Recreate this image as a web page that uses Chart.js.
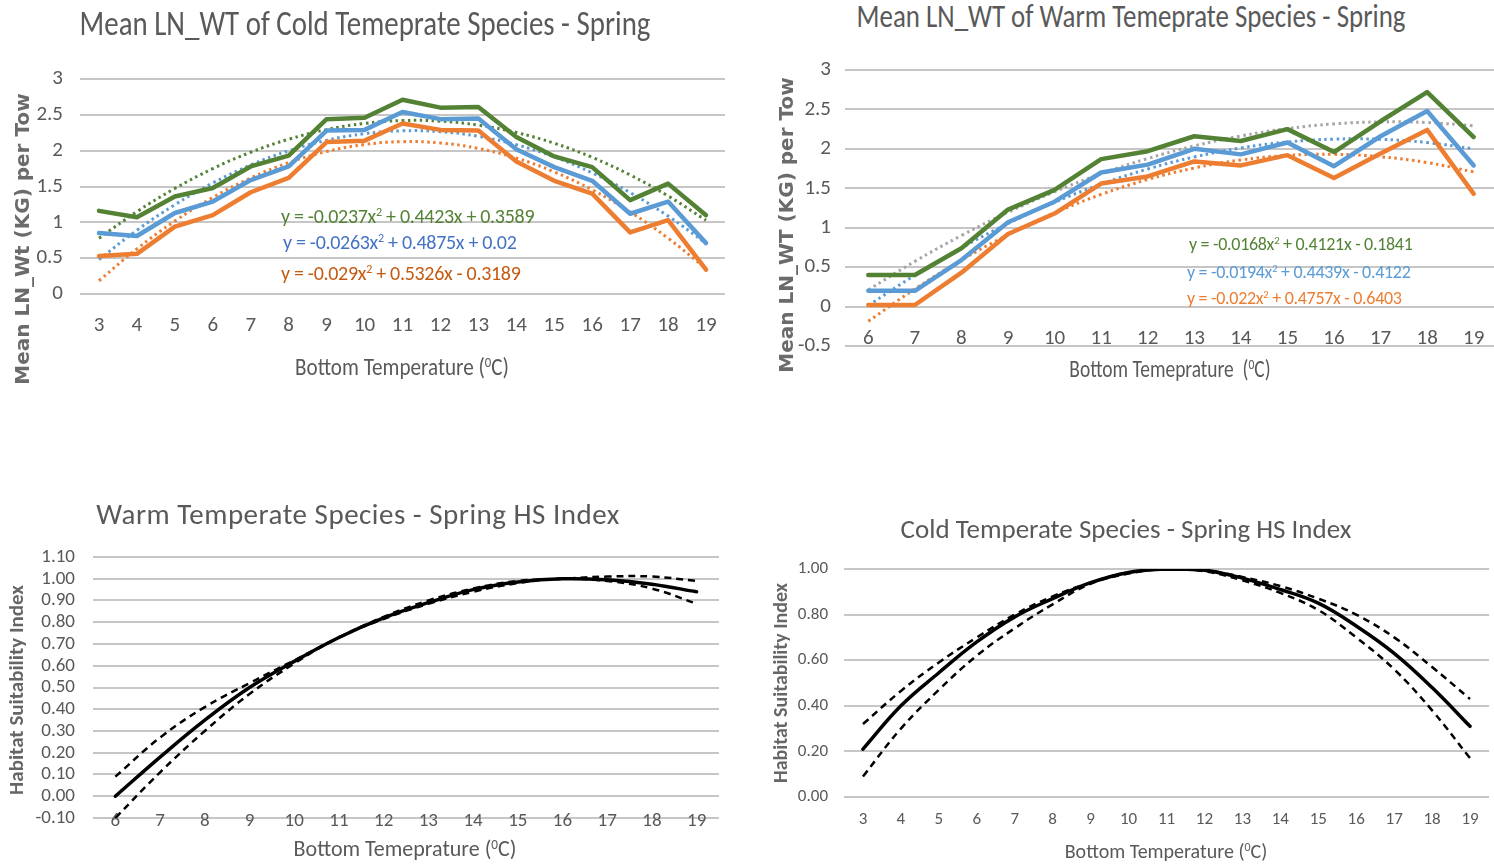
<!DOCTYPE html>
<html>
<head>
<meta charset="utf-8">
<script src="https://cdn.jsdelivr.net/npm/chart.js@4.4.1/dist/chart.umd.min.js"></script>
<style>
  html, body { margin: 0; padding: 0; background: #fff; width: 1494px; height: 864px; overflow: hidden; position: relative; }
  body { font-family: 'Carlito', 'Liberation Sans Narrow', 'Open Sans', sans-serif; }
  canvas { position: absolute; }
  .t { position: absolute; white-space: nowrap; color: #595959; transform: translate(-50%, -50%) scaleX(var(--sx, 1)); line-height: 1; }
  .rot { transform: translate(-50%, -50%) rotate(-90deg); }
  .eq { position: absolute; white-space: nowrap; transform: translateY(-50%); line-height: 1; letter-spacing: -0.3px; }
  sup { font-size: 0.6em; vertical-align: 0.55em; line-height: 0; }
  .ytl { font-family: 'DejaVu Sans', sans-serif; font-weight: bold; font-size: 20px; color: #6b6b6b; }
  .yth { font-size: 21px; font-weight: bold; color: #666; }
</style>
</head>
<body>
<canvas id="coldMean" width="745" height="320" style="left:0;top:40px"></canvas>
<canvas id="warmMean" width="740" height="340" style="left:760px;top:40px"></canvas>
<canvas id="warmIndex" width="740" height="344" style="left:0;top:520px"></canvas>
<canvas id="coldIndex" width="740" height="334" style="left:760px;top:530px"></canvas>

<div class="t" style="left:365px;top:24px;font-size:34px;--sx:0.85">Mean LN_WT of Cold Temeprate Species - Spring</div>
<div class="t" style="left:1131px;top:17px;font-size:32px;--sx:0.84">Mean LN_WT of Warm Temeprate Species - Spring</div>
<div class="t" style="left:358px;top:514px;font-size:29px;letter-spacing:0.5px">Warm Temperate Species - Spring HS Index</div>
<div class="t" style="left:1126px;top:528px;font-size:27px">Cold Temperate Species - Spring HS Index</div>

<div class="t rot ytl" style="left:22px;top:239px">Mean LN_Wt (KG) per Tow</div>
<div class="t rot ytl" style="left:786px;top:225px">Mean LN_WT (KG) per Tow</div>
<div class="t rot yth" style="left:16px;top:690px">Habitat Suitability Index</div>
<div class="t rot yth" style="left:780px;top:683px;font-size:20px">Habitat Suitability Index</div>

<div class="t" style="left:402px;top:367px;font-size:24px;--sx:0.88">Bottom Temperature (<sup>0</sup>C)</div>
<div class="t" style="left:1170px;top:369px;font-size:24px;--sx:0.81">Bottom Temeprature&nbsp; (<sup>0</sup>C)</div>
<div class="t" style="left:405px;top:849px;font-size:22px">Bottom Temeprature (<sup>0</sup>C)</div>
<div class="t" style="left:1166px;top:851px;font-size:20px">Bottom Temperature (<sup>0</sup>C)</div>

<div class="eq" style="left:281px;top:216px;font-size:20px;color:#548235">y = -0.0237x<sup>2</sup> + 0.4423x + 0.3589</div>
<div class="eq" style="left:283px;top:242px;font-size:20px;color:#4472C4">y = -0.0263x<sup>2</sup> + 0.4875x + 0.02</div>
<div class="eq" style="left:281px;top:273px;font-size:20px;color:#C55A11">y = -0.029x<sup>2</sup> + 0.5326x - 0.3189</div>
<div class="eq" style="left:1189px;top:244px;font-size:18px;color:#548235">y = -0.0168x<sup>2</sup> + 0.4121x - 0.1841</div>
<div class="eq" style="left:1187px;top:272px;font-size:18px;color:#5B9BD5">y = -0.0194x<sup>2</sup> + 0.4439x - 0.4122</div>
<div class="eq" style="left:1187px;top:298px;font-size:18px;color:#ED7D31">y = -0.022x<sup>2</sup> + 0.4757x - 0.6403</div>

<script>
// Bottom temperature categories (°C)
const coldTemps = ['3','4','5','6','7','8','9','10','11','12','13','14','15','16','17','18','19'];
const warmTemps = ['6','7','8','9','10','11','12','13','14','15','16','17','18','19'];

// Mean LN weight per tow, cold temperate species (upper, mean, lower)
const coldUpper = [1.16, 1.07, 1.36, 1.48, 1.78, 1.93, 2.44, 2.46, 2.71, 2.60, 2.61, 2.19, 1.92, 1.77, 1.31, 1.54, 1.10];
const coldMean  = [0.85, 0.81, 1.13, 1.29, 1.59, 1.78, 2.28, 2.29, 2.54, 2.44, 2.45, 2.02, 1.77, 1.58, 1.12, 1.29, 0.71];
const coldLower = [0.53, 0.56, 0.94, 1.10, 1.42, 1.62, 2.12, 2.14, 2.38, 2.29, 2.28, 1.85, 1.58, 1.40, 0.86, 1.03, 0.34];

// Mean LN weight per tow, warm temperate species (upper, mean, lower)
const warmUpper = [0.40, 0.40, 0.74, 1.23, 1.48, 1.87, 1.97, 2.16, 2.10, 2.25, 1.96, 2.35, 2.72, 2.15];
const warmMean  = [0.20, 0.20, 0.59, 1.07, 1.33, 1.70, 1.80, 2.00, 1.93, 2.08, 1.78, 2.16, 2.48, 1.79];
const warmLower = [0.02, 0.02, 0.43, 0.92, 1.18, 1.56, 1.65, 1.84, 1.79, 1.92, 1.63, 1.94, 2.24, 1.43];

// Polynomial trendline coefficients [a, b, c] for y = a·x² + b·x + c
const coldUpperFit = [-0.0237, 0.4423, 0.3589];
const coldMeanFit  = [-0.0263, 0.4875, 0.02];
const coldLowerFit = [-0.029, 0.5326, -0.3189];
const warmUpperFit = [-0.0168, 0.4121, -0.1841];
const warmMeanFit  = [-0.0194, 0.4439, -0.4122];
const warmLowerFit = [-0.022, 0.4757, -0.6403];

// Habitat suitability index, warm temperate species
const warmHsi      = [0.00, 0.18, 0.35, 0.50, 0.62, 0.73, 0.82, 0.89, 0.95, 0.985, 1.00, 0.995, 0.975, 0.94];
const warmHsiUpper = [0.09, 0.27, 0.41, 0.52, 0.625, 0.73, 0.825, 0.90, 0.955, 0.99, 1.00, 1.01, 1.01, 0.99];
const warmHsiLower = [-0.10, 0.11, 0.30, 0.47, 0.61, 0.73, 0.815, 0.885, 0.94, 0.98, 1.00, 0.99, 0.955, 0.885];

// Habitat suitability index, cold temperate species
const coldHsi      = [0.21, 0.40, 0.545, 0.68, 0.79, 0.87, 0.94, 0.985, 1.00, 0.995, 0.96, 0.91, 0.85, 0.75, 0.63, 0.48, 0.31];
const coldHsiUpper = [0.32, 0.465, 0.59, 0.70, 0.80, 0.88, 0.94, 0.985, 1.00, 0.995, 0.965, 0.925, 0.87, 0.80, 0.70, 0.57, 0.43];
const coldHsiLower = [0.09, 0.30, 0.47, 0.62, 0.74, 0.845, 0.935, 0.98, 1.00, 0.99, 0.95, 0.895, 0.82, 0.70, 0.56, 0.38, 0.17];

// Trendline evaluated at each category; x is the 1-based category position
function trend(coef, n) {
  const out = [];
  for (let i = 1; i <= n; i++) out.push(coef[0] * i * i + coef[1] * i + coef[2]);
  return out;
}

const FONT = "'Carlito', 'Liberation Sans Narrow', 'Open Sans', sans-serif";
const TICK = '#595959';
const GRID = '#c6c6c6';

function solid(data, color, width, tension) {
  return { data, borderColor: color, borderWidth: width, pointRadius: 0, tension: tension || 0,
           fill: false, borderJoinStyle: 'round', borderCapStyle: 'round' };
}
function dotted(data, color, width, dash, tension) {
  return { data, borderColor: color, borderWidth: width, borderDash: dash, pointRadius: 0,
           tension: tension || 0, fill: false, borderCapStyle: 'butt' };
}

// Category labels may sit inside the plot area (drawn over the lowest gridline),
// so the x axis draws its labels without clipping them to the axis box
const unclipCategoryLabels = {
  id: 'unclipCategoryLabels',
  beforeDraw(chart) {
    const xs = chart.scales.x;
    if (xs && typeof xs._computeLabelArea === 'function') xs._computeLabelArea = () => undefined;
  }
};

// Build a line chart whose plot area sits on a fixed page rectangle
function build(id, page, area, yW, xH, labels, datasets, y, xTick) {
  const cv = document.getElementById(id);
  const target = {
    left: area.left - page.left, top: area.top - page.top,
    right: area.right - page.left, bottom: area.bottom - page.top
  };
  let padding = { left: target.left - yW, top: target.top, right: cv.width - target.right,
                  bottom: cv.height - target.bottom - xH };
  const make = pad => new Chart(cv, {
    type: 'line',
    data: { labels, datasets },
    plugins: [unclipCategoryLabels],
    options: {
      responsive: false, animation: false, devicePixelRatio: 1,
      layout: { padding: pad },
      plugins: { legend: { display: false }, tooltip: { enabled: false } },
      scales: {
        x: {
          offset: true,
          grid: { display: false, drawTicks: false }, border: { display: false },
          ticks: { padding: xTick.pad, color: TICK, font: { family: FONT, size: xTick.size },
                   maxRotation: 0, autoSkip: false },
          afterFit: s => { s.height = xH; }
        },
        y: {
          min: y.min, max: y.max,
          grid: { color: GRID, lineWidth: 2, drawTicks: false }, border: { display: false },
          ticks: { stepSize: y.step, padding: y.pad, color: TICK, font: { family: FONT, size: y.size },
                   autoSkip: false, callback: y.fmt },
          afterFit: s => { s.width = yW; }
        }
      }
    }
  });
  let chart = make(padding);
  // re-lay the chart until the plot area hits the target rectangle
  for (let k = 0; k < 3; k++) {
    const a = chart.chartArea;
    const dl = target.left - a.left, dt = target.top - a.top;
    const dr = a.right - target.right, db = a.bottom - target.bottom;
    if (Math.abs(dl) + Math.abs(dt) + Math.abs(dr) + Math.abs(db) < 0.5) break;
    padding = { left: padding.left + dl, top: padding.top + dt, right: padding.right + dr, bottom: padding.bottom + db };
    chart.destroy();
    chart = make(padding);
  }
  return chart;
}

const GREEN = '#548235', BLUE = '#5B9BD5', ORANGE = '#ED7D31', GREY = '#A5A5A5';
const plain = v => String(Math.round(v * 10) / 10);
const two = v => v.toFixed(2);
const DOT = [2.5, 3.5], DASH = [7, 5];

build('coldMean', { left: 0, top: 40 }, { left: 80, top: 79, right: 725, bottom: 294 }, 60, 45, coldTemps, [
  solid(coldUpper, GREEN, 4.5), solid(coldMean, BLUE, 4.5), solid(coldLower, ORANGE, 4.5),
  dotted(trend(coldUpperFit, coldTemps.length), GREEN, 3, DOT, 0.4),
  dotted(trend(coldMeanFit, coldTemps.length), BLUE, 3, DOT, 0.4),
  dotted(trend(coldLowerFit, coldTemps.length), ORANGE, 3, DOT, 0.4)
], { min: 0, max: 3, step: 0.5, pad: 17, size: 21, fmt: plain }, { pad: 19, size: 21 });

build('warmMean', { left: 760, top: 40 }, { left: 845, top: 70, right: 1497, bottom: 346 }, 70, 20, warmTemps, [
  solid(warmUpper, GREEN, 4.5), solid(warmMean, BLUE, 4.5), solid(warmLower, ORANGE, 4.5),
  dotted(trend(warmUpperFit, warmTemps.length), GREY, 3, DOT, 0.4),
  dotted(trend(warmMeanFit, warmTemps.length), BLUE, 3, DOT, 0.4),
  dotted(trend(warmLowerFit, warmTemps.length), ORANGE, 3, DOT, 0.4)
], { min: -0.5, max: 3, step: 0.5, pad: 14, size: 21, fmt: plain }, { pad: -20, size: 21 });

build('warmIndex', { left: 0, top: 520 }, { left: 93, top: 557, right: 719, bottom: 818 }, 60, 15, warmTemps, [
  solid(warmHsi, '#000', 3.5, 0.4),
  dotted(warmHsiUpper, '#000', 2.5, DASH, 0.4),
  dotted(warmHsiLower, '#000', 2.5, DASH, 0.4)
], { min: -0.1, max: 1.1, step: 0.1, pad: 18, size: 19, fmt: two }, { pad: -8, size: 19 });

build('coldIndex', { left: 760, top: 530 }, { left: 844, top: 569, right: 1489, bottom: 797 }, 60, 40, coldTemps, [
  solid(coldHsi, '#000', 3.5, 0.4),
  dotted(coldHsiUpper, '#000', 2.5, DASH, 0.4),
  dotted(coldHsiLower, '#000', 2.5, DASH, 0.4)
], { min: 0, max: 1, step: 0.2, pad: 16, size: 17, fmt: two }, { pad: 13, size: 17 });
</script>
</body>
</html>
